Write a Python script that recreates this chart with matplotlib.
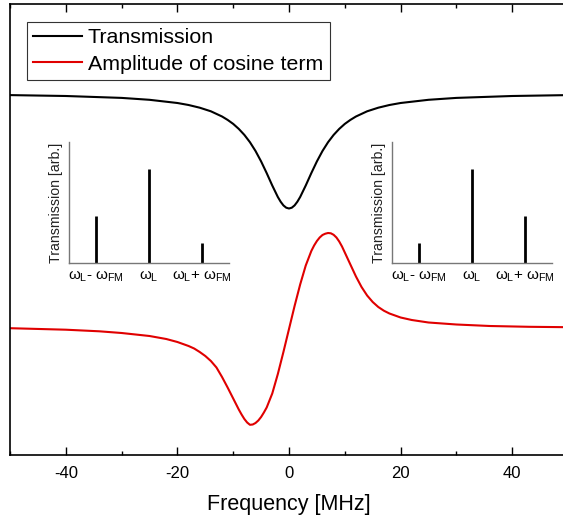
import matplotlib
matplotlib.use("Agg")
import matplotlib.pyplot as plt
from matplotlib.ticker import MultipleLocator

plt.rcParams['font.family'] = ['Liberation Sans', 'DejaVu Sans']
plt.rcParams['mathtext.fontset'] = 'custom'
plt.rcParams['mathtext.rm'] = 'Liberation Sans'
plt.rcParams['mathtext.it'] = 'Liberation Sans'
plt.rcParams['axes.unicode_minus'] = False

# transmission dip (arb. units)
freq_T = [-50, -40, -30, -25, -20, -18, -16, -14, -12, -11, -10, -9, -8, -7, -6, -5, -4, -3, -2, -1.5, -1, -0.5, 0,
          0.5, 1, 1.5, 2, 3, 4, 5, 6, 7, 8, 9, 10, 11, 12, 14, 16, 18, 20, 25, 30, 40, 50]
trans = [3.599, 3.59, 3.571, 3.552, 3.52, 3.50, 3.473, 3.437, 3.385, 3.351, 3.311, 3.261, 3.201, 3.128,
         3.04, 2.936, 2.819, 2.695, 2.58, 2.533, 2.496, 2.473, 2.465,
         2.473, 2.496, 2.533, 2.58, 2.695, 2.819, 2.936, 3.04, 3.128, 3.201, 3.261, 3.311, 3.351, 3.385,
         3.437, 3.473, 3.50, 3.52, 3.552, 3.571, 3.59, 3.599]

# amplitude of cosine term (arb. units)
freq_C = [-50, -40, -34, -30, -25, -22, -20, -18, -17, -16, -15, -14, -13, -12, -11, -10, -9.5, -9, -8.5, -8,
          -7.5, -7, -6.5, -6, -5.5, -5, -4.5, -4, -3, -2, -1, 0, 1, 2, 3, 4, 4.5, 5, 5.5, 6, 6.5, 7, 7.5, 8,
          8.5, 9, 9.5, 10, 11, 12, 13, 14, 15, 16, 17, 18, 20, 22, 25, 30, 36, 43, 50]
cosine = [1.268, 1.253, 1.237, 1.22, 1.19, 1.16, 1.13, 1.09, 1.065, 1.03, 0.99, 0.94, 0.875, 0.78, 0.675,
          0.565, 0.51, 0.455, 0.405, 0.36, 0.325, 0.302, 0.305, 0.32, 0.345, 0.38, 0.425, 0.475, 0.615,
          0.81, 1.03, 1.26, 1.49, 1.705, 1.895, 2.04, 2.095, 2.14, 2.175, 2.20, 2.213, 2.22, 2.217, 2.202,
          2.175, 2.135, 2.085, 2.025, 1.905, 1.785, 1.68, 1.595, 1.53, 1.48, 1.443, 1.415, 1.375, 1.35,
          1.325, 1.305, 1.29, 1.282, 1.278]

# sideband spectra in the insets
sb_pos = [1, 2, 3]
sb_labels = [r'$\omega_\mathrm{L}$- $\omega_\mathrm{FM}$', r'$\omega_\mathrm{L}$',
             r'$\omega_\mathrm{L}$+ $\omega_\mathrm{FM}$']
sb_left = [0.5, 1.0, 0.21]
sb_right = [0.21, 1.0, 0.5]

W, H = 563, 521
fig = plt.figure(figsize=(W / 100, H / 100), dpi=100)
ax = fig.add_axes([10 / W, 1 - 455 / H, 558 / W, 451 / H])

ax.plot(freq_T, trans, color='black', linewidth=1.5, label='Transmission')
ax.plot(freq_C, cosine, color='#e00000', linewidth=1.5, label='Amplitude of cosine term')

ax.set_xlim(-50, 50)
ax.set_ylim(0, 4.51)
ax.set_yticks([])
ax.xaxis.set_major_locator(MultipleLocator(20))
ax.xaxis.set_minor_locator(MultipleLocator(10))
ax.tick_params(axis='x', which='both', direction='in', top=True, labelsize=12, pad=8)
ax.tick_params(axis='x', which='major', length=6, width=1)
ax.tick_params(axis='x', which='minor', length=3, width=1)
for s in ax.spines.values():
    s.set_linewidth(1.2)
ax.set_xlabel('Frequency [MHz]', fontsize=15.5, labelpad=9)

leg = ax.legend(loc='upper left', bbox_to_anchor=(27 / W, 1 - 22 / H), bbox_transform=fig.transFigure,
                fontsize=15.4, frameon=True, fancybox=False, framealpha=1, edgecolor='#333333',
                borderaxespad=0, borderpad=0.3, handlelength=2.25, handletextpad=0.3, labelspacing=0.35)
leg.get_frame().set_linewidth(0.8)


def inset(x0, heights):
    ia = fig.add_axes([x0 / W, 1 - 263 / H, 160 / W, 121 / H])
    ia.patch.set_alpha(0)
    ia.vlines(sb_pos, 0, heights, color='black', linewidth=2)
    ia.set_xlim(0.5, 3.5)
    ia.set_ylim(0, 1.29)
    ia.set_yticks([])
    ia.set_xticks(sb_pos)
    ia.set_xticklabels(sb_labels, fontsize=11)
    ia.tick_params(axis='x', length=0, pad=5)
    for side in ['top', 'right']:
        ia.spines[side].set_visible(False)
    for side in ['left', 'bottom']:
        ia.spines[side].set_color('#777777')
        ia.spines[side].set_linewidth(1)
    ia.set_ylabel('Transmission [arb.]', fontsize=10.2, labelpad=4, color='#222222')
    return ia


inset(69, sb_left)
inset(392, sb_right)

fig.savefig('out.png', dpi=100)
